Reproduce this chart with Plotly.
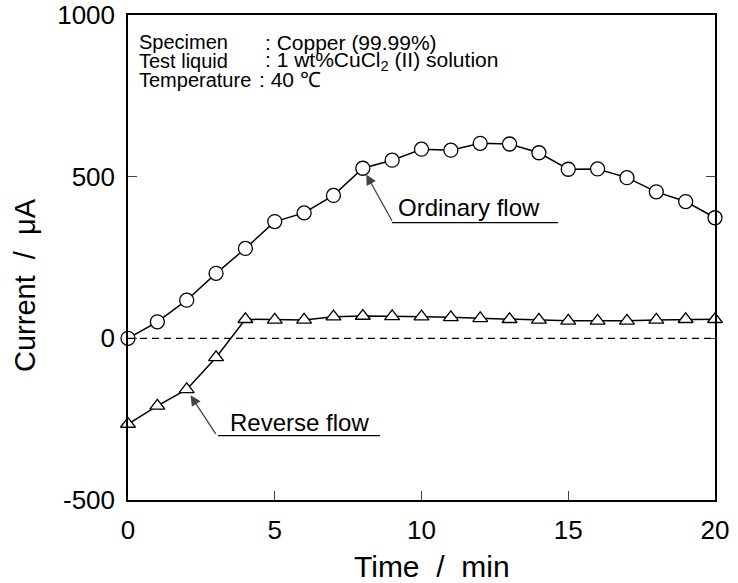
import plotly.graph_objects as go

time_min = list(range(0, 21))
ordinary_flow = [0, 51, 118, 201, 278, 361, 388, 442, 526, 551, 585, 582, 603, 601, 574, 523, 524, 497, 453, 423, 373]
reverse_flow = [-265, -209, -158, -59, 59, 57, 57, 67, 69, 68, 67, 65, 62, 59, 57, 54, 54, 54, 57, 59, 59]

x_ticks = [0, 5, 10, 15, 20]
y_ticks = [-500, 0, 500, 1000]
y_ticktext = ["-500", "0", "500", "1000"]

W, H = 738, 583
L, R, T, B = 128, 23, 15, 83
PW, PH = W - L - R, H - T - B
FONT = "Liberation Sans, Arial, Helvetica, sans-serif"


def px(x):
    return (x - L) / PW


def py(y):
    return (H - B - y) / PH


fig = go.Figure()

fig.add_shape(type="line", xref="x", yref="y", x0=0, x1=20, y0=0, y1=0,
              line=dict(color="black", width=1.2, dash="7px,5px"))

fig.add_trace(go.Scatter(
    x=time_min, y=ordinary_flow, mode="lines+markers", name="Ordinary flow",
    line=dict(color="black", width=1.5),
    marker=dict(symbol="circle", size=14, color="white", line=dict(color="black", width=1.3)),
    cliponaxis=False, showlegend=False))

fig.add_trace(go.Scatter(
    x=time_min, y=reverse_flow, mode="lines+markers", name="Reverse flow",
    line=dict(color="black", width=1.5),
    marker=dict(symbol="triangle-up", size=13, color="white", line=dict(color="black", width=1.3)),
    cliponaxis=False, showlegend=False))

ann = []
# info box text
labels = ["Specimen", "Test liquid", "Temperature"]
values = [": Copper (99.99%)", ": 1 wt%CuCl<sub>2</sub> (II) solution", ": 40 \u2103"]
ys = [42, 61, 80]
vx = [264, 264, 258]
for lab, val, yy, xx in zip(labels, values, ys, vx):
    ann.append(dict(text=lab, xref="paper", yref="paper", x=px(138), y=py(yy),
                    xanchor="left", yanchor="middle", showarrow=False, borderpad=0,
                    font=dict(family=FONT, size=20, color="black")))
    ann.append(dict(text=val, xref="paper", yref="paper", x=px(xx), y=py(yy),
                    xanchor="left", yanchor="middle", showarrow=False, borderpad=0,
                    font=dict(family=FONT, size=21, color="black")))

# Ordinary flow label + arrow
ann.append(dict(text="Ordinary flow", xref="paper", yref="paper", x=px(396), y=py(207),
                xanchor="left", yanchor="middle", showarrow=False,
                font=dict(family=FONT, size=24, color="black")))
ann.append(dict(text="", x=8, y=ordinary_flow[8], xref="x", yref="y",
                ax=30, ay=54, showarrow=True, arrowhead=2, arrowsize=1.6,
                arrowwidth=1.3, arrowcolor="#444", standoff=7))
# Reverse flow label + arrow
ann.append(dict(text="Reverse flow", xref="paper", yref="paper", x=px(228), y=py(422),
                xanchor="left", yanchor="middle", showarrow=False,
                font=dict(family=FONT, size=24, color="black")))
ann.append(dict(text="", x=2, y=reverse_flow[2], xref="x", yref="y",
                ax=30, ay=46, showarrow=True, arrowhead=2, arrowsize=1.6,
                arrowwidth=1.3, arrowcolor="#444", standoff=7))

# axis titles
ann.append(dict(text="Current \u00a0/ \u00a0\u03bcA", xref="paper", yref="paper",
                x=px(25), y=py(285), textangle=-90, showarrow=False,
                xanchor="center", yanchor="middle",
                font=dict(family=FONT, size=29, color="black")))
ann.append(dict(text="Time \u00a0/ \u00a0min", xref="paper", yref="paper",
                x=px(432), y=py(566), showarrow=False,
                xanchor="center", yanchor="middle",
                font=dict(family=FONT, size=30, color="black")))

fig.add_shape(type="line", xref="paper", yref="paper", x0=px(392), x1=px(558),
              y0=py(222.7), y1=py(222.7), line=dict(color="black", width=1.2))
fig.add_shape(type="line", xref="paper", yref="paper", x0=px(218), x1=px(380),
              y0=py(435.7), y1=py(435.7), line=dict(color="black", width=1.2))

fig.update_layout(
    width=W, height=H,
    margin=dict(l=L, r=R, t=T, b=B, autoexpand=False),
    paper_bgcolor="white", plot_bgcolor="white",
    annotations=ann,
    font=dict(family=FONT, color="black"),
)
fig.update_xaxes(range=[0, 20], tickvals=x_ticks, ticks="inside", ticklen=9, tickwidth=1.2,
                 showline=True, linecolor="black", linewidth=1.5, mirror=True,
                 showgrid=False, zeroline=False, tickfont=dict(size=26, family=FONT),
                 ticklabelstandoff=6, automargin=False)
fig.update_yaxes(range=[-500, 1000], tickvals=y_ticks, ticktext=y_ticktext,
                 ticks="inside", ticklen=9, tickwidth=1.2,
                 showline=True, linecolor="black", linewidth=1.5, mirror="ticks",
                 showgrid=False, zeroline=False, tickfont=dict(size=26, family=FONT),
                 ticklabelstandoff=6, automargin=False)

fig.write_html("out.html")
